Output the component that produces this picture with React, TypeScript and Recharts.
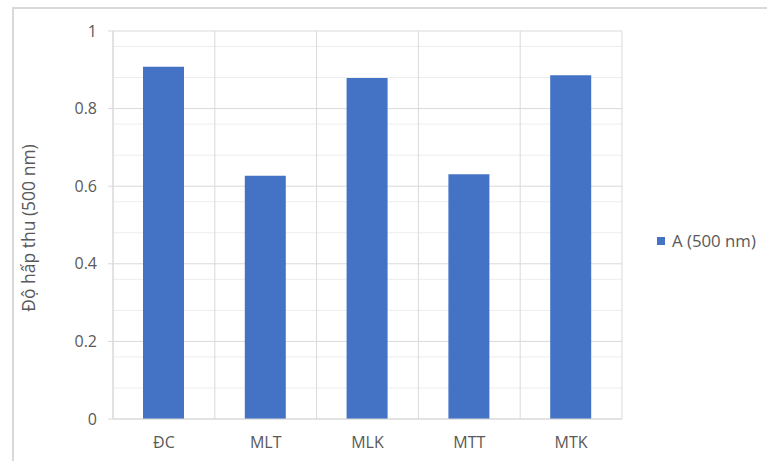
import { BarChart, Bar, XAxis, YAxis, CartesianGrid } from 'recharts';

const categories = ['ĐC', 'MLT', 'MLK', 'MTT', 'MTK'];
const absorbance = [0.908, 0.627, 0.879, 0.631, 0.886];
const seriesName = 'A (500 nm)';
const yTicks = [0, 0.2, 0.4, 0.6, 0.8, 1];
const minorTicks = [
  0.04, 0.08, 0.12, 0.16, 0.24, 0.28, 0.32, 0.36, 0.44, 0.48, 0.52, 0.56,
  0.64, 0.68, 0.72, 0.76, 0.84, 0.88, 0.92, 0.96,
];

const data = categories.map((name, i) => ({ name, value: absorbance[i] }));

const FONT = '"Open Sans", "Noto Sans", sans-serif';
const TEXT = '#595959';
const GRID = '#d9d9d9';
const BAR = '#4472C4';

export default function App() {
  return (
    <div
      style={{
        position: 'absolute',
        left: 0,
        top: 0,
        width: 767,
        height: 461,
        background: '#fff',
        fontFamily: FONT,
      }}
    >
      <div
        style={{
          position: 'absolute',
          left: 12,
          top: 7,
          right: 0,
          bottom: 0,
          borderTop: '2px solid #d9d9d9',
          borderLeft: '2px solid #d9d9d9',
        }}
      />
      <BarChart
        width={767}
        height={461}
        data={data}
        margin={{ top: 31, right: 145, bottom: 12, left: 43 }}
        barCategoryGap="30%"
        style={{ position: 'absolute', left: 0, top: 0 }}
      >
        <CartesianGrid
          vertical={false}
          stroke="#ededed"
          horizontalValues={minorTicks}
        />
        <CartesianGrid
          stroke={GRID}
          horizontalValues={yTicks}
          verticalCoordinatesGenerator={({ offset }: any) =>
            categories
              .map((_, i) => offset.left + (i * offset.width) / categories.length)
              .concat(offset.left + offset.width)
          }
        />
        <XAxis
          dataKey="name"
          height={30}
          axisLine={{ stroke: GRID }}
          tickLine={false}
          tickMargin={12}
          tick={{ fill: TEXT, fontSize: 16, fontFamily: FONT }}
        />
        <YAxis
          width={70}
          domain={[0, 1]}
          ticks={yTicks}
          axisLine={{ stroke: GRID }}
          tickLine={{ stroke: GRID }}
          tickSize={5}
          tickMargin={11}
          tick={{ fill: TEXT, fontSize: 16, fontFamily: FONT }}
          label={{
            content: ({ viewBox }: any) => (
              <text
                x={28}
                y={viewBox.y + viewBox.height / 2 + 3}
                transform={`rotate(-90, 28, ${viewBox.y + viewBox.height / 2 + 3})`}
                textAnchor="middle"
                dominantBaseline="central"
                fill={TEXT}
                fontSize={17.5}
                fontFamily={FONT}
              >
                Độ hấp thu (500 nm)
              </text>
            ),
          }}
        />
        <Bar dataKey="value" name={seriesName} fill={BAR} barSize={41} isAnimationActive={false} />
      </BarChart>
      <div
        style={{
          position: 'absolute',
          left: 657,
          top: 229,
          display: 'flex',
          alignItems: 'center',
          color: TEXT,
          fontSize: 16.8,
          whiteSpace: 'nowrap',
        }}
      >
        <span style={{ width: 8, height: 8, background: BAR, marginRight: 7, display: 'inline-block' }} />
        {seriesName}
      </div>
    </div>
  );
}
